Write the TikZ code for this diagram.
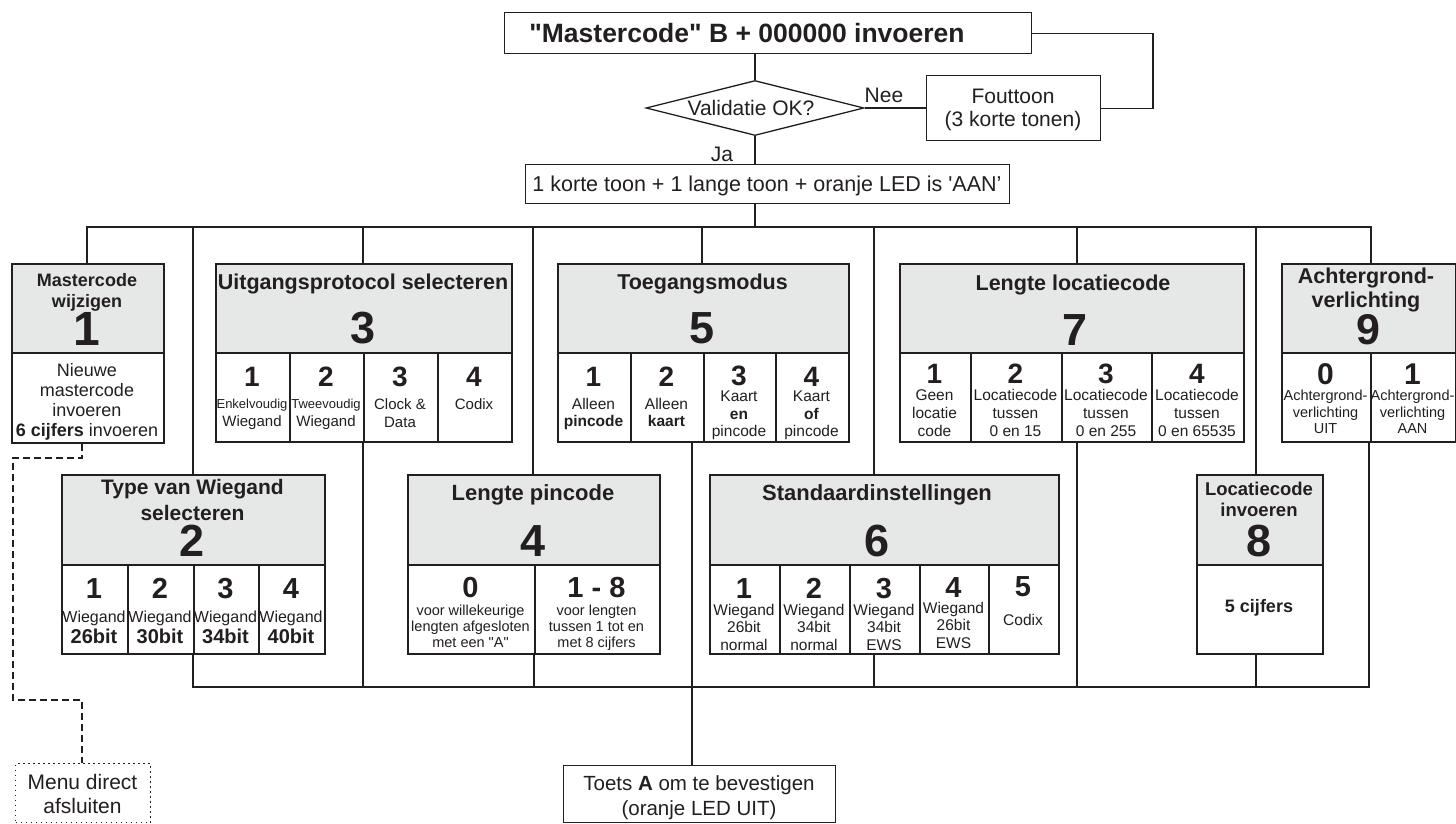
\documentclass[tikz,border=0pt]{standalone}
\usepackage{fontspec}
\setmainfont{Liberation Sans}
\usetikzlibrary{shapes.geometric}
\definecolor{ink}{HTML}{231F20}
\definecolor{hdr}{HTML}{E6E7E7}
\newcommand\fs[1]{\fontsize{#1}{#1}\selectfont}
\newcommand\T[6][]{\node[txt,#1] (#2) at (#4,#5) {\fs{#3}#6};}
\newcommand\B[6]{\node[#1, anchor=north west, minimum width={(#5-#3)*1pt}, minimum height={(#6-#4)*1pt}] (#2) at (#3,#4) {};}
\begin{document}
\begin{tikzpicture}[x=1pt,y=-1pt,
  txt/.style={inner sep=0pt, anchor=base, text=ink},
  hbox/.style={draw=ink, fill=hdr, line width=1.8pt, inner sep=0pt},
  cbox/.style={draw=ink, fill=white, line width=1.8pt, inner sep=0pt},
  fbox/.style={draw=ink, fill=white, line width=1.3pt, inner sep=0pt},
  wire/.style={draw=ink, line width=2.6pt},
  lnk/.style={draw=ink, line width=1.3pt},
  dashln/.style={draw=ink, line width=1.2pt, dash pattern=on 7pt off 4pt},
  dotbox/.style={draw=ink, fill=white, line width=1.1pt, dash pattern=on 1.5pt off 3.5pt, inner sep=0pt}]
\fill[white] (0,0) rectangle (1456,823);
\useasboundingbox (0,0) rectangle (1456,823);

% ---------- top part ----------
\B{fbox}{top}{504}{12}{1031}{53}
\node[draw=ink, fill=white, line width=1.3pt, diamond, inner sep=0pt, minimum width=218pt, minimum height=55pt] (dia) at (755,108) {};
\B{fbox}{fout}{926}{75}{1100}{140}
\B{fbox}{aan}{525}{164}{1009}{203}
\coordinate (fbk) at (1153,90);

\T{ttop}{26.5}{747}{42.5}{\textbf{\textquotedbl Mastercode\textquotedbl{} B + 000000 invoeren}}
\T{val}{21}{751}{115.5}{Validatie OK?}
\T{nee}{21}{884}{102.5}{Nee}
\T{fo1}{21}{1013}{103}{Fouttoon}
\T{fo2}{21}{1013}{126.5}{(3 korte tonen)}
\T{ja}{21}{722}{161.5}{Ja}
\T{aant}{21.5}{767}{191}{1 korte toon + 1 lange toon + oranje LED is \textquotesingle AAN'}

% ---------- menu 1 ----------
\B{hbox}{m1h}{11}{263}{163}{352}
\B{cbox}{m1c1}{11}{352}{163}{442}
\T{m1t1}{18}{87}{286.5}{\textbf{Mastercode}}
\T{m1t2}{18}{87}{307.5}{\textbf{wijzigen}}
\T{m1n}{48}{87}{345}{\textbf{1}}
\T{m1a}{18}{87}{376}{Nieuwe}
\T{m1b}{18}{87}{396.5}{mastercode}
\T{m1d}{18}{87}{416.5}{invoeren}
\T{m1e}{18}{87}{436.5}{\textbf{6 cijfers} invoeren}

% ---------- menu 3 ----------
\B{hbox}{m3h}{215}{263}{511}{352}
\B{cbox}{m3c1}{215}{352}{289}{441}
\B{cbox}{m3c2}{289}{352}{363}{441}
\B{cbox}{m3c3}{363}{352}{437}{441}
\B{cbox}{m3c4}{437}{352}{511}{441}
\T{m3t}{21.5}{363}{289}{\textbf{Uitgangsprotocol selecteren}}
\T{m3n}{45}{363}{343}{\textbf{3}}
\T{m3d1}{28}{252}{386.7}{\textbf{1}}
\T{m3d2}{28}{326}{386.7}{\textbf{2}}
\T{m3d3}{28}{400}{386.7}{\textbf{3}}
\T{m3d4}{28}{474}{386.7}{\textbf{4}}
\T{m3a1}{13}{252}{408.3}{Enkelvoudig}
\T{m3b1}{15}{252}{426.7}{Wiegand}
\T{m3a2}{13}{326}{408.3}{Tweevoudig}
\T{m3b2}{15}{326}{426.7}{Wiegand}
\T{m3a3}{15}{400}{409.3}{Clock \&}
\T{m3b3}{15}{400}{427.3}{Data}
\T{m3a4}{15}{474}{409.3}{Codix}

% ---------- menu 5 ----------
\B{hbox}{m5h}{557}{263}{848}{352}
\B{cbox}{m5c1}{557}{352}{630}{441}
\B{cbox}{m5c2}{630}{352}{703}{441}
\B{cbox}{m5c3}{703}{352}{775}{441}
\B{cbox}{m5c4}{775}{352}{848}{441}
\T{m5t}{21.5}{702.5}{289}{\textbf{Toegangsmodus}}
\T{m5n}{45}{702.5}{343}{\textbf{5}}
\T{m5d1}{28}{593.5}{386.7}{\textbf{1}}
\T{m5d2}{28}{666.5}{386.7}{\textbf{2}}
\T{m5d3}{28}{739}{385}{\textbf{3}}
\T{m5d4}{28}{811.5}{386}{\textbf{4}}
\T{m5a1}{15.5}{593.5}{409.3}{Alleen}
\T{m5b1}{15.5}{593.5}{426.7}{\textbf{pincode}}
\T{m5a2}{15.5}{666.5}{409.3}{Alleen}
\T{m5b2}{15.5}{666.5}{426.7}{\textbf{kaart}}
\T{m5a3}{15.5}{739}{401.7}{Kaart}
\T{m5b3}{15.5}{739}{419}{\textbf{en}}
\T{m5c3t}{15.5}{739}{436}{pincode}
\T{m5a4}{15.5}{811.5}{401.7}{Kaart}
\T{m5b4}{15.5}{811.5}{419}{\textbf{of}}
\T{m5c4t}{15.5}{811.5}{436}{pincode}

% ---------- menu 7 ----------
\B{hbox}{m7h}{899}{263}{1243}{352}
\B{cbox}{m7c1}{899}{352}{970}{441}
\B{cbox}{m7c2}{970}{352}{1061}{441}
\B{cbox}{m7c3}{1061}{352}{1151}{441}
\B{cbox}{m7c4}{1151}{352}{1243}{441}
\T{m7t}{21.5}{1073}{290}{\textbf{Lengte locatiecode}}
\T{m7n}{45}{1075}{345}{\textbf{7}}
\T{m7d1}{28}{934.5}{383.3}{\textbf{1}}
\T{m7d2}{28}{1015.5}{383.3}{\textbf{2}}
\T{m7d3}{28}{1106}{383.3}{\textbf{3}}
\T{m7d4}{28}{1197}{383.3}{\textbf{4}}
\T{m7a1}{15.5}{934.5}{400}{Geen}
\T{m7b1}{15.5}{934.5}{418}{locatie}
\T{m7e1}{15.5}{934.5}{436}{code}
\T{m7a2}{15.5}{1015.5}{400}{Locatiecode}
\T{m7b2}{15.5}{1015.5}{418}{tussen}
\T{m7e2}{15.5}{1015.5}{436}{0 en 15}
\T{m7a3}{15.5}{1106}{400}{Locatiecode}
\T{m7b3}{15.5}{1106}{418}{tussen}
\T{m7e3}{15.5}{1106}{436}{0 en 255}
\T{m7a4}{15.5}{1197}{400}{Locatiecode}
\T{m7b4}{15.5}{1197}{418}{tussen}
\T{m7e4}{15.5}{1197}{436}{0 en 65535}

% ---------- menu 9 ----------
\B{hbox}{m9h}{1281}{263}{1455}{352}
\B{cbox}{m9c1}{1281}{352}{1370}{441}
\B{cbox}{m9c2}{1370}{352}{1455}{441}
\T{m9t1}{21.5}{1366}{283.3}{\textbf{Achtergrond-}}
\T{m9t2}{21.5}{1366}{307.3}{\textbf{verlichting}}
\T{m9n}{43}{1368}{344}{\textbf{9}}
\T{m9d1}{30}{1325.5}{384}{\textbf{0}}
\T{m9d2}{30}{1412.5}{384}{\textbf{1}}
\T{m9a1}{14.5}{1325.5}{400.7}{Achtergrond-}
\T{m9b1}{14.5}{1325.5}{417.3}{verlichting}
\T{m9e1}{14.5}{1325.5}{433.3}{UIT}
\T{m9a2}{14.5}{1412.5}{400.7}{Achtergrond-}
\T{m9b2}{14.5}{1412.5}{417.3}{verlichting}
\T{m9e2}{14.5}{1412.5}{433.3}{AAN}

% ---------- menu 2 ----------
\B{hbox}{m2h}{61}{474}{324}{564}
\B{cbox}{m2c1}{61}{564}{127}{653}
\B{cbox}{m2c2}{127}{564}{193}{653}
\B{cbox}{m2c3}{193}{564}{258}{653}
\B{cbox}{m2c4}{258}{564}{324}{653}
\T{m2t1}{21}{192.5}{494}{\textbf{Type van Wiegand}}
\T{m2t2}{21}{192.5}{520}{\textbf{selecteren}}
\T{m2n}{45}{192.5}{556.7}{\textbf{2}}
\T{m2d1}{29}{94}{598.3}{\textbf{1}}
\T{m2d2}{29}{160}{598.3}{\textbf{2}}
\T{m2d3}{29}{225.5}{598.3}{\textbf{3}}
\T{m2d4}{29}{291}{598.3}{\textbf{4}}
\T{m2a1}{16}{94}{622.3}{Wiegand}
\T{m2b1}{20}{94}{643.3}{\textbf{26bit}}
\T{m2a2}{16}{160}{622.3}{Wiegand}
\T{m2b2}{20}{160}{643.3}{\textbf{30bit}}
\T{m2a3}{16}{225.5}{622.3}{Wiegand}
\T{m2b3}{20}{225.5}{643.3}{\textbf{34bit}}
\T{m2a4}{16}{291}{622.3}{Wiegand}
\T{m2b4}{20}{291}{643.3}{\textbf{40bit}}

% ---------- menu 4 ----------
\B{hbox}{m4h}{407}{474}{659}{564}
\B{cbox}{m4c1}{407}{564}{534}{653}
\B{cbox}{m4c2}{534}{564}{659}{653}
\T{m4t}{22}{533}{500.7}{\textbf{Lengte pincode}}
\T{m4n}{45}{533}{556.7}{\textbf{4}}
\T{m4d1}{29}{470.5}{597.7}{\textbf{0}}
\T{m4d2}{29}{596.5}{597.7}{\textbf{1 - 8}}
\T{m4a1}{14.5}{470.5}{615}{voor willekeurige}
\T{m4b1}{14.5}{470.5}{631.7}{lengten afgesloten}
\T{m4e1}{14.5}{470.5}{647.3}{met een \textquotedbl A\textquotedbl}
\T{m4a2}{14.5}{596.5}{615}{voor lengten}
\T{m4b2}{14.5}{596.5}{631.7}{tussen 1 tot en}
\T{m4e2}{14.5}{596.5}{647.3}{met 8 cijfers}

% ---------- menu 6 ----------
\B{hbox}{m6h}{709}{474}{1058}{564}
\B{cbox}{m6c1}{709}{564}{779}{653}
\B{cbox}{m6c2}{779}{564}{849}{653}
\B{cbox}{m6c3}{849}{564}{919}{653}
\B{cbox}{m6c4}{919}{564}{988}{653}
\B{cbox}{m6c5}{988}{564}{1058}{653}
\T{m6t}{22}{877}{500.7}{\textbf{Standaardinstellingen}}
\T{m6n}{45}{877}{556.7}{\textbf{6}}
\T{m6d1}{29}{744}{598.3}{\textbf{1}}
\T{m6d2}{29}{814}{598.3}{\textbf{2}}
\T{m6d3}{29}{884}{598.3}{\textbf{3}}
\T{m6d4}{29}{953.5}{597}{\textbf{4}}
\T{m6d5}{29}{1023}{596.7}{\textbf{5}}
\T{m6a1}{15.5}{744}{615}{Wiegand}
\T{m6b1}{15.5}{744}{632.3}{26bit}
\T{m6e1}{15.5}{744}{650}{normal}
\T{m6a2}{15.5}{814}{615}{Wiegand}
\T{m6b2}{15.5}{814}{632.3}{34bit}
\T{m6e2}{15.5}{814}{650}{normal}
\T{m6a3}{15.5}{884}{615}{Wiegand}
\T{m6b3}{15.5}{884}{632.3}{34bit}
\T{m6e3}{15.5}{884}{650}{EWS}
\T{m6a4}{15.5}{953.5}{613.3}{Wiegand}
\T{m6b4}{15.5}{953.5}{630}{26bit}
\T{m6e4}{15.5}{953.5}{648.3}{EWS}
\T{m6a5}{15.5}{1023}{625}{Codix}

% ---------- menu 8 ----------
\B{hbox}{m8h}{1196}{474}{1322}{564}
\B{cbox}{m8c1}{1196}{564}{1322}{653}
\T{m8t1}{18.5}{1259}{495.7}{\textbf{Locatiecode}}
\T{m8t2}{18.5}{1259}{516.7}{\textbf{invoeren}}
\T{m8n}{45}{1259}{556.7}{\textbf{8}}
\T{m8a}{18}{1259}{612.7}{\textbf{5 cijfers}}

% ---------- bottom ----------
\B{dotbox}{mdir}{15}{763}{150}{822}
\T{md1}{21}{82.5}{789.3}{Menu direct}
\T{md2}{21}{82.5}{813.3}{afsluiten}
\B{fbox}{toets}{563}{765}{835}{822}
\T{to1}{20.5}{699}{790}{Toets \textbf{A} om te bevestigen}
\T{to2}{20.5}{699}{815}{(oranje LED UIT)}

% ---------- connectors: top ----------
\draw[lnk] (dia.north) -- (dia.north |- top.south);
\draw[lnk] (dia.east) -- (dia.east -| fout.west);
\draw[lnk] (fout.east) -| (fbk) |- (top.east);
\draw[lnk] (dia.south) -- (dia.south |- aan.north);

% ---------- upper bus ----------
\coordinate (j1) at (87,227);
\coordinate (j2) at (193,227);
\coordinate (j3) at (363,227);
\coordinate (j4) at (533,227);
\coordinate (j5) at (702,227);
\coordinate (j6) at (874,227);
\coordinate (j7) at (1077,227);
\coordinate (j8) at (1256,227);
\coordinate (j9) at (1371,227);
\draw[wire] (dia.south |- aan.south) -- (dia.south |- j1);
\draw[wire] (j1 |- m1h.north) -- (j1) -- (j9) -- (j9 |- m9h.north);
\draw[wire] (j2) -- (j2 |- m2h.north);
\draw[wire] (j3) -- (j3 |- m3h.north);
\draw[wire] (j4) -- (j4 |- m4h.north);
\draw[wire] (j5) -- (j5 |- m5h.north);
\draw[wire] (j6) -- (j6 |- m6h.north);
\draw[wire] (j7) -- (j7 |- m7h.north);
\draw[wire] (j8) -- (j8 |- m8h.north);

% ---------- lower bus ----------
\coordinate (k2) at (193,687);
\coordinate (k3) at (363,687);
\coordinate (k4) at (534,687);
\coordinate (k5) at (692,687);
\coordinate (k6) at (874,687);
\coordinate (k7) at (1077,687);
\coordinate (k8) at (1256,687);
\coordinate (k9) at (1369,687);
\draw[wire] (k2 |- m2c2.south) -- (k2) -- (k9) -- (k9 |- m9c1.south);
\draw[wire] (k3 |- m3c2.south) -- (k3);
\draw[wire] (k4 |- m4c1.south) -- (k4);
\draw[wire] (k5 |- m5c2.south) -- (k5 |- toets.north);
\draw[wire] (k6 |- m6c3.south) -- (k6);
\draw[wire] (k7 |- m7c3.south) -- (k7);
\draw[wire] (k8 |- m8c1.south) -- (k8);

% ---------- dashed exit line ----------
\coordinate (d1) at (82,458);
\coordinate (d2) at (13,458);
\coordinate (d3) at (13,700);
\coordinate (d4) at (82,700);
\draw[dashln] (d1 |- m1c1.south) -- (d1) -- (d2) -- (d3) -- (d4) -- (d4 |- mdir.north);
\end{tikzpicture}
\end{document}
